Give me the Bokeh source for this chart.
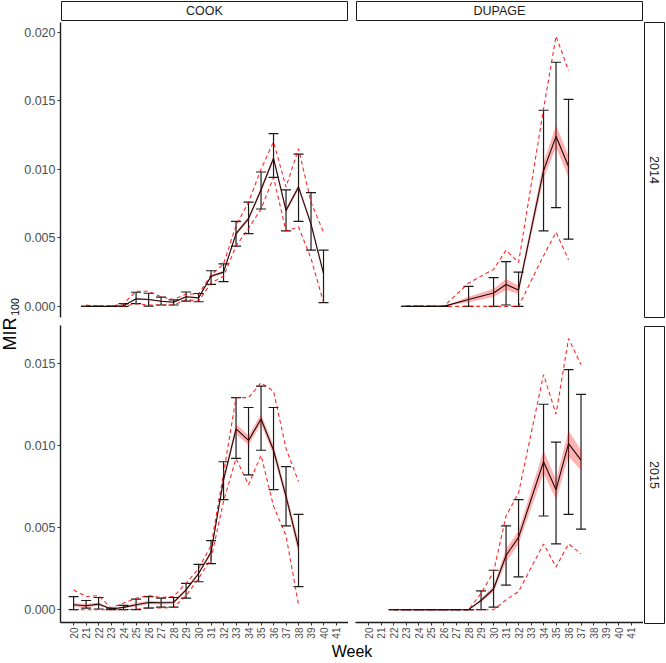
from math import pi
from bokeh.plotting import figure
from bokeh.layouts import row, column
from bokeh.models import (ColumnDataSource, Range1d, Whisker, TeeHead, Label,
                          FixedTicker, NumeralTickFormatter, Spacer)
from bokeh.embed import file_html
from bokeh.resources import INLINE

# ---------------- data ----------------
weeks_axis = list(range(20, 42))
top_ticks = [0.0, 0.005, 0.010, 0.015, 0.020]
bottom_ticks = [0.0, 0.005, 0.010, 0.015]
col_labels = ["COOK", "DUPAGE"]
row_labels = ["2014", "2015"]

# COOK 2014
c14_week = [21, 22, 23, 24, 25, 26, 27, 28, 29, 30, 31, 32, 33, 34, 35, 36, 37, 38, 39, 40]
c14_mean = [0, 0, 0, 0.00005, 0.00055, 0.0005, 0.00038, 0.0003, 0.0007, 0.00062, 0.0022, 0.0025,
            0.0053, 0.0064, 0.0085, 0.0108, 0.0070, 0.0087, 0.0060, 0.0024]
c14_eb_lo = [0, 0, 0, 0, 0.0002, 0.00002, 0.0001, 0.0001, 0.00038, 0.00034, 0.0016, 0.0018,
             0.0044, 0.0053, 0.0071, 0.0094, 0.0055, 0.0062, 0.0041, 0.00027]
c14_eb_hi = [0, 0, 0, 0.0002, 0.00103, 0.00096, 0.00067, 0.00048, 0.00105, 0.00094, 0.0026, 0.0031,
             0.0062, 0.0076, 0.0098, 0.0126, 0.0085, 0.0111, 0.0083, 0.0041]
c14_ci_lo = [0, 0, 0, 0, 0.0002, 0.0001, 0.0001, 0.0001, 0.0005, 0.0004, 0.0017, 0.0022,
             0.0044, 0.0057, 0.0071, 0.0094, 0.0055, 0.0058, 0.0035, 0.0003]
c14_ci_hi = [0.0001, 0, 0, 0.0002, 0.0011, 0.0011, 0.0007, 0.0005, 0.0009, 0.0009, 0.0023, 0.0031,
             0.0059, 0.0076, 0.0100, 0.0120, 0.0087, 0.0115, 0.0076, 0.0054]
c14_rib = [0, 0, 0, 0, 0.00005, 0.00005, 0.00005, 0.00005, 0.00005, 0.00005, 0.0001, 0.0001,
           0.00015, 0.00015, 0.0002, 0.0002, 0.0002, 0.0002, 0.0002, 0.0002]

# DUPAGE 2014
d14_week = [23, 24, 25, 26, 28, 30, 31, 32, 34, 35, 36]
d14_mean = [0, 0, 0, 0, 0.0005, 0.00098, 0.0016, 0.0012, 0.0099, 0.0124, 0.0102]
d14_eb_lo = [0, 0, 0, 0, 0, 0, 0.0001, 0, 0.0055, 0.0072, 0.0049]
d14_eb_hi = [0, 0, 0, 0, 0.00146, 0.0021, 0.00327, 0.0025, 0.0143, 0.0178, 0.0151]
d14_ci_lo = [0, 0, 0, 0, 0, 0, 0, 0, 0.0037, 0.0054, 0.0034]
d14_ci_hi = [0, 0, 0, 0, 0.0017, 0.0027, 0.0041, 0.0032, 0.0144, 0.0197, 0.0172]
d14_rib = [0, 0, 0, 0, 0.0002, 0.0003, 0.0004, 0.0003, 0.0006, 0.0008, 0.0008]

# COOK 2015
c15_week = list(range(20, 39))
c15_mean = [0.0003, 0.00024, 0.00034, 0.00004, 0.00014, 0.0003, 0.00044, 0.00042, 0.00044, 0.0012,
            0.0022, 0.0035, 0.0079, 0.0110, 0.0103, 0.0116, 0.0097, 0.0069, 0.0038]
c15_eb_lo = [0, 0.0001, 0.00004, 0, 0, 0, 0.0001, 0.00016, 0.00016, 0.0007, 0.0017, 0.0028,
             0.0067, 0.0092, 0.0082, 0.0097, 0.0073, 0.0051, 0.0014]
c15_eb_hi = [0.0008, 0.00056, 0.00074, 0.0001, 0.00026, 0.00064, 0.0008, 0.0007, 0.00074, 0.0016,
             0.00276, 0.0042, 0.0090, 0.0129, 0.0123, 0.0136, 0.0123, 0.0087, 0.0058]
c15_ci_lo = [0, 0, 0, 0, 0, 0.00002, 0.00014, 0.0001, 0.00014, 0.00086, 0.0019, 0.0031, 0.0066,
             0.0092, 0.0076, 0.0094, 0.0063, 0.0045, 0.0003]
c15_ci_hi = [0.0012, 0.0008, 0.00086, 0.0001, 0.0004, 0.0007, 0.00086, 0.00074, 0.0008, 0.0016,
             0.0025, 0.0039, 0.0083, 0.0129, 0.0129, 0.0138, 0.0133, 0.0098, 0.0078]
c15_rib = [0.0001, 0.0001, 0.0001, 0, 0.00005, 0.0001, 0.0001, 0.0001, 0.0001, 0.0001, 0.0001,
           0.00015, 0.0002, 0.0003, 0.0003, 0.0003, 0.0003, 0.0003, 0.0004]

# DUPAGE 2015
d15_week = [22, 23, 24, 25, 26, 27, 28, 29, 30, 31, 32, 34, 35, 36, 37]
d15_mean = [0, 0, 0, 0, 0, 0, 0, 0.00056, 0.00126, 0.0033, 0.0044, 0.0090, 0.0073, 0.0101, 0.0091]
d15_eb_lo = [0, 0, 0, 0, 0, 0, 0, 0, 0.00016, 0.0015, 0.0020, 0.0057, 0.0040, 0.0058, 0.0049]
d15_eb_hi = [0, 0, 0, 0, 0, 0, 0, 0.00114, 0.0024, 0.0051, 0.0067, 0.0125, 0.0102, 0.0146, 0.0131]
d15_ci_lo = [0, 0, 0, 0, 0, 0, 0, 0, 0, 0.0006, 0.0011, 0.0040, 0.0026, 0.0040, 0.0034]
d15_ci_hi = [0, 0, 0, 0, 0, 0, 0, 0.0010, 0.0023, 0.0057, 0.0071, 0.0143, 0.0119, 0.0165, 0.0149]
d15_rib = [0, 0, 0, 0, 0, 0, 0, 0.0001, 0.0002, 0.0004, 0.0004, 0.0007, 0.0006, 0.0008, 0.0006]

# ---------------- styling / layout ----------------
FONT = "Liberation Sans"
LEFT_W = 20
AXIS_W = 40
PANEL_W = 288
GAP = 7
STRIP_W = 22
STRIP_H = 21
TOP_H = 297
GAP_V = 7
BOT_H = 299
XAX_H = 17
WEEK_H = 20
TOTAL_H = STRIP_H + TOP_H + GAP_V + BOT_H + XAX_H + WEEK_H

x_range = Range1d(18.95, 42.0)
y_top = Range1d(-0.00081, 0.0207)
y_bot = Range1d(-0.00078, 0.01729)


def make_panel(width, height, yr, left_axis, bottom_axis):
    p = figure(width=width, height=height, x_range=x_range, y_range=yr,
               output_backend="svg", toolbar_location=None,
               x_axis_location="below" if bottom_axis else None,
               y_axis_location="left" if left_axis else None,
               min_border_left=AXIS_W if left_axis else 0,
               min_border_right=0, min_border_top=0,
               min_border_bottom=XAX_H if bottom_axis else 0)
    p.grid.visible = False
    p.outline_line_color = None
    p.background_fill_color = "white"
    p.border_fill_color = "white"
    for ax in p.axis:
        ax.axis_line_color = "#1a1a1a"
        ax.axis_line_width = 1.4
        ax.major_tick_line_color = "#333333"
        ax.major_tick_out = 3
        ax.major_tick_in = 0
        ax.minor_tick_line_color = None
        ax.major_label_text_color = "#4D4D4D"
        ax.major_label_text_font = FONT
        ax.major_label_standoff = 2
    if left_axis:
        p.yaxis.major_label_text_font_size = "12.5px"
        p.yaxis.formatter = NumeralTickFormatter(format="0.000")
        p.yaxis.ticker = FixedTicker(ticks=top_ticks if yr is y_top else bottom_ticks)
    if bottom_axis:
        p.xaxis.ticker = FixedTicker(ticks=weeks_axis)
        p.xaxis.major_label_orientation = pi / 2
        p.xaxis.major_label_text_font_size = "10px"
    return p


def draw(p, week, mean, eb_lo, eb_hi, ci_lo, ci_hi, rib):
    src = ColumnDataSource(dict(
        week=week, mean=mean, eb_lo=eb_lo, eb_hi=eb_hi, ci_lo=ci_lo, ci_hi=ci_hi,
        rib_lo=[m - r for m, r in zip(mean, rib)],
        rib_hi=[m + r for m, r in zip(mean, rib)]))
    p.varea(x="week", y1="rib_lo", y2="rib_hi", source=src,
            fill_color="#FF0000", fill_alpha=0.3)
    p.line("week", "ci_hi", source=src, line_color="#FF0000", line_alpha=0.85,
           line_width=1.1, line_dash="4 3")
    p.line("week", "ci_lo", source=src, line_color="#FF0000", line_alpha=0.85,
           line_width=1.1, line_dash="4 3")
    p.line("week", "mean", source=src, line_color="#1a0a0a", line_width=1.1)
    w = Whisker(source=src, base="week", lower="eb_lo", upper="eb_hi",
                line_color="#1a1a1a", line_width=1.2,
                upper_head=TeeHead(size=10, line_color="#1a1a1a", line_width=1.2),
                lower_head=TeeHead(size=10, line_color="#1a1a1a", line_width=1.2))
    p.add_layout(w)


def make_strip(text, width, height, vertical=False):
    s = figure(width=width, height=height, x_range=Range1d(0, 1), y_range=Range1d(0, 1),
               output_backend="svg", toolbar_location=None,
               x_axis_location=None, y_axis_location=None, min_border=1)
    s.grid.visible = False
    s.outline_line_color = "#1a1a1a"
    s.outline_line_width = 1
    s.background_fill_color = "white"
    s.border_fill_color = "white"
    s.add_layout(Label(x=0.5, y=0.5, text=text, text_align="center", text_baseline="middle",
                       angle=-pi / 2 if vertical else 0, text_font=FONT,
                       text_font_size="12.5px", text_color="#1a1a1a"))
    return s


def text_fig(width, height):
    t = figure(width=width, height=height, x_range=Range1d(0, width), y_range=Range1d(0, height),
               output_backend="svg", toolbar_location=None,
               x_axis_location=None, y_axis_location=None, min_border=0)
    t.grid.visible = False
    t.outline_line_color = None
    t.background_fill_color = "white"
    t.border_fill_color = "white"
    return t


# panels
pc14 = make_panel(AXIS_W + PANEL_W, TOP_H, y_top, True, False)
pd14 = make_panel(PANEL_W, TOP_H, y_top, False, False)
pc15 = make_panel(AXIS_W + PANEL_W, BOT_H + XAX_H, y_bot, True, True)
pd15 = make_panel(PANEL_W, BOT_H + XAX_H, y_bot, False, True)

draw(pc14, c14_week, c14_mean, c14_eb_lo, c14_eb_hi, c14_ci_lo, c14_ci_hi, c14_rib)
draw(pd14, d14_week, d14_mean, d14_eb_lo, d14_eb_hi, d14_ci_lo, d14_ci_hi, d14_rib)
draw(pc15, c15_week, c15_mean, c15_eb_lo, c15_eb_hi, c15_ci_lo, c15_ci_hi, c15_rib)
draw(pd15, d15_week, d15_mean, d15_eb_lo, d15_eb_hi, d15_ci_lo, d15_ci_hi, d15_rib)

# strips
s_cook = make_strip(col_labels[0], PANEL_W, STRIP_H)
s_dup = make_strip(col_labels[1], PANEL_W, STRIP_H)
s_14 = make_strip(row_labels[0], STRIP_W, TOP_H, vertical=True)
s_15 = make_strip(row_labels[1], STRIP_W, BOT_H, vertical=True)

# y axis title (MIR with subscript 100), centred on the gap between the rows
left = text_fig(LEFT_W, TOTAL_H)
gap_mid = STRIP_H + TOP_H + GAP_V / 2
left.add_layout(Label(x=9, y=TOTAL_H - (gap_mid + 12), text="MIR", angle=pi / 2,
                      text_align="center", text_baseline="middle", text_font=FONT,
                      text_font_size="18px", text_color="black"))
left.add_layout(Label(x=14.5, y=TOTAL_H - (gap_mid - 15), text="100", angle=pi / 2,
                      text_align="center", text_baseline="middle", text_font=FONT,
                      text_font_size="10.5px", text_color="black"))

# x axis title
main_w = AXIS_W + PANEL_W + GAP + PANEL_W + STRIP_W
week = text_fig(main_w, WEEK_H)
week.add_layout(Label(x=AXIS_W + PANEL_W + GAP / 2, y=WEEK_H / 2, text="Week",
                      text_align="center", text_baseline="middle", text_font=FONT,
                      text_font_size="16px", text_color="black"))

main = column(
    row(Spacer(width=AXIS_W, height=STRIP_H), s_cook, Spacer(width=GAP, height=STRIP_H), s_dup,
        Spacer(width=STRIP_W, height=STRIP_H)),
    row(pc14, Spacer(width=GAP, height=TOP_H), pd14, s_14),
    Spacer(width=main_w, height=GAP_V),
    row(pc15, Spacer(width=GAP, height=BOT_H + XAX_H), pd15,
        column(s_15, Spacer(width=STRIP_W, height=XAX_H))),
    week,
)
layout = row(left, main)

open("out.html", "w").write(file_html(layout, INLINE, title="MIR"))
